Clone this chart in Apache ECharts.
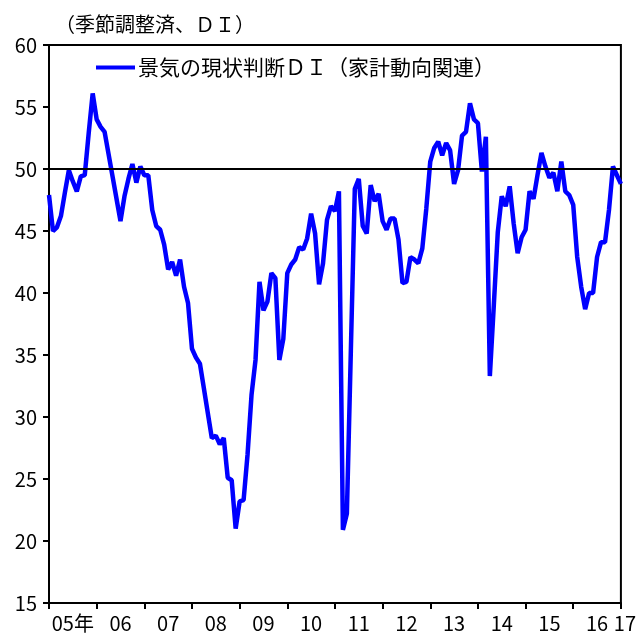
<!DOCTYPE html>
<html>
<head>
<meta charset="utf-8">
<script src="https://cdn.jsdelivr.net/npm/echarts@6/dist/echarts.min.js"></script>
<style>
  html, body { margin: 0; padding: 0; background: #fff; }
  #main { width: 639px; height: 637px; }
</style>
</head>
<body>
<div id="main"></div>
<script>
// 景気の現状判断DI（家計動向関連）、季節調整済、月次 2005年1月〜2017年1月
var startYear = 2005;
var v2005 = [47.9, 45.0, 45.3, 46.2, 48.1, 49.9, 49.0, 48.2, 49.4, 49.5, 52.9, 56.1];
var v2006 = [54.0, 53.4, 53.0, 51.2, 49.4, 47.6, 45.8, 47.8, 49.2, 50.4, 48.9, 50.2];
var v2007 = [49.5, 49.5, 46.7, 45.4, 45.1, 43.9, 41.9, 42.5, 41.4, 42.7, 40.5, 39.2];
var v2008 = [35.5, 34.8, 34.3, 32.3, 30.3, 28.3, 28.5, 27.8, 28.3, 25.1, 24.9, 21.0];
var v2009 = [23.2, 23.3, 27.0, 31.8, 34.6, 40.9, 38.6, 39.3, 41.6, 41.2, 34.6, 36.3];
var v2010 = [41.6, 42.3, 42.7, 43.7, 43.5, 44.4, 46.4, 44.8, 40.7, 42.4, 45.9, 47.0];
var v2011 = [46.6, 48.2, 20.9, 22.2, 35.3, 48.4, 49.2, 45.4, 44.8, 48.7, 47.4, 48.0];
var v2012 = [45.8, 45.1, 46.0, 46.0, 44.3, 40.8, 40.9, 42.9, 42.7, 42.4, 43.6, 46.8];
var v2013 = [50.6, 51.7, 52.2, 51.1, 52.1, 51.5, 48.8, 49.9, 52.7, 53.0, 55.3, 54.0];
var v2014 = [53.7, 49.8, 52.6, 33.3, 39.0, 44.9, 47.8, 47.0, 48.6, 45.6, 43.2, 44.5];
var v2015 = [45.1, 48.2, 47.6, 49.5, 51.3, 50.2, 49.3, 49.7, 48.2, 50.6, 48.2, 47.9];
var v2016 = [47.1, 42.9, 40.5, 38.7, 40.0, 40.0, 42.9, 44.1, 44.1, 46.7, 50.2, 49.5];
var v2017 = [48.8];

var yearLabels = ['05年', '06', '07', '08', '09', '10', '11', '12', '13', '14', '15', '16', '17'];
var seriesName = '景気の現状判断ＤＩ（家計動向関連）';
var unitText = '（季節調整済、ＤＩ）';
var baseLine = 50;

var values = [].concat(v2005, v2006, v2007, v2008, v2009, v2010, v2011,
                       v2012, v2013, v2014, v2015, v2016, v2017);
var months = [];
for (var i = 0; i < values.length; i++) {
  months.push((startYear + Math.floor(i / 12)) + '年' + (i % 12 + 1) + '月');
}
var lastIdx = values.length - 1;

var font = '"Noto Sans CJK JP", "Noto Sans", sans-serif';
var chart = echarts.init(document.getElementById('main'));

chart.setOption({
  animation: false,
  backgroundColor: '#fff',
  title: {
    text: unitText,
    left: 50,
    top: 9,
    textStyle: { fontFamily: font, fontSize: 20, fontWeight: 'normal', color: '#000' }
  },
  legend: {
    data: [seriesName],
    left: 91,
    top: 52,
    icon: 'rect',
    itemWidth: 39,
    itemHeight: 4,
    itemGap: 4,
    textStyle: { fontFamily: font, fontSize: 21, color: '#000', padding: [0, 0, 0, -2] }
  },
  grid: {
    left: 49, right: 16, top: 45, bottom: 34,
    show: true,
    borderColor: '#000',
    borderWidth: 2
  },
  xAxis: {
    type: 'category',
    data: months,
    boundaryGap: false,
    axisLine: { lineStyle: { color: '#000', width: 2 } },
    axisTick: {
      length: 6,
      interval: function (idx) { return idx % 12 === 0; },
      lineStyle: { color: '#000', width: 2 }
    },
    axisLabel: {
      margin: 10,
      fontFamily: font,
      fontSize: 20,
      color: '#000',
      interval: function (idx) { return idx % 12 === 6 || idx === lastIdx; },
      formatter: function (val, idx) {
        // the last year label sits at the right edge, a bit apart from "16"
        if (idx === lastIdx) return '{e|' + yearLabels[12] + '}';
        return yearLabels[Math.floor(idx / 12)];
      },
      rich: {
        e: { fontFamily: font, fontSize: 20, color: '#000', padding: [0, 0, 0, 8] }
      }
    },
    splitLine: { show: false }
  },
  yAxis: {
    type: 'value',
    min: 15,
    max: 60,
    interval: 5,
    axisLine: { show: true, lineStyle: { color: '#000', width: 2 } },
    axisTick: { show: true, length: 6, lineStyle: { color: '#000', width: 2 } },
    axisLabel: { margin: 12, fontFamily: font, fontSize: 20, color: '#000' },
    splitLine: { show: false }
  },
  series: [{
    name: seriesName,
    type: 'line',
    data: values,
    symbol: 'none',
    lineStyle: { color: '#0000ff', width: 4.5 },
    itemStyle: { color: '#0000ff' },
    markLine: {
      silent: true,
      symbol: 'none',
      label: { show: false },
      lineStyle: { color: '#000', width: 2, type: 'solid' },
      data: [{ yAxis: baseLine }]
    },
    z: 3
  }]
});
</script>
</body>
</html>
